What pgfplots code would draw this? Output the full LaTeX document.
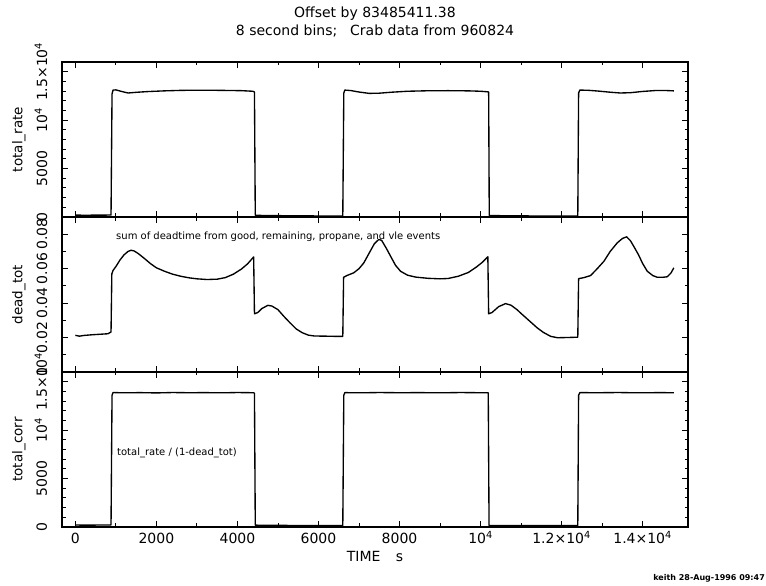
\documentclass[border=0pt]{standalone}
\usepackage{fontspec}
\setmainfont{DejaVu Sans}
\usepackage{pgfplots}
\pgfplotsset{compat=1.18}

\newcommand{\tl}{\fontsize{14}{14}\selectfont}
\newcommand{\sx}[1]{10\textsuperscript{#1}}

\pgfplotsset{
  panel/.style={
    anchor=south west, scale only axis, width=626pt, height=155pt,
    xmin=-330, xmax=15120,
    axis line style={line width=1.1pt},
    tick align=inside,
    xtick={0,2000,4000,6000,8000,10000,12000,14000},
    minor x tick num=1,
    major tick length=6pt, minor tick length=3.5pt,
    every tick/.style={black,line width=0.9pt},
    tick label style={font=\tl},
    xticklabel style={anchor=base}, xticklabel shift=17pt,
    yticklabel style={rotate=90,anchor=base}, yticklabel shift=15pt,
    every axis y label/.style={at={(axis description cs:-0.069,0.5)},rotate=90,
      anchor=center,font=\fontsize{13.5}{14}\selectfont},
    scaled ticks=false,
    cycle list={{black,no markers}},
    every axis plot post/.append style={line width=1.35pt,line join=round},
  },
  rate/.style={ymin=0, ymax=16000, ytick={0,5000,10000,15000}, minor y tick num=4,
    yticklabels={0,5000,\sx{4},1.5×\sx{4}}},
}

\begin{document}
\begin{tikzpicture}[x=1pt,y=1pt]
\path[use as bounding box] (0,0) rectangle (766,586);

% top panel: total_rate
\begin{axis}[panel, rate, at={(62pt,369pt)}, xticklabels={}, ylabel={total\_rate}]
\addplot coordinates {
(0,190)(300,185)(600,195)(880,200)(905,12700)(930,13100)(1000,13120)(1150,12950)(1300,12800)
(1500,12870)(1800,12950)(2200,13020)(2600,13070)(3000,13090)(3400,13080)(3800,13060)
(4100,13040)(4380,12980)(4420,12900)(4440,180)(4600,160)(5200,130)(5900,110)(6600,100)
(6625,12800)(6650,13100)(6800,13050)(7000,12900)(7250,12760)(7500,12780)(7800,12880)
(8200,12980)(8700,13030)(9200,13040)(9700,13020)(10000,12980)(10180,12920)(10200,12900)
(10215,150)(10600,130)(11200,110)(11900,100)(12400,100)(12420,12800)(12450,13100)
(12650,13080)(12900,13000)(13200,12880)(13450,12800)(13700,12830)(14000,12960)
(14300,13050)(14550,13060)(14770,13020)
};
\end{axis}

% middle panel: dead_tot
\begin{axis}[panel, at={(62pt,214pt)}, xticklabels={}, ylabel={dead\_tot},
  ymin=0, ymax=0.09, ytick={0,0.02,0.04,0.06,0.08}, minor y tick num=1,
  yticklabels={0,0.02,0.04,0.06,0.08}]
\addplot coordinates {
(0,0.0213)(100,0.0208)(200,0.0212)(400,0.0216)(600,0.0219)(800,0.0222)(880,0.0232)
(900,0.0570)(930,0.0590)(1000,0.0612)(1100,0.0650)(1200,0.0680)(1300,0.0700)(1375,0.0707)
(1450,0.0703)(1550,0.0688)(1700,0.0660)(1850,0.0630)(2000,0.0605)(2200,0.0585)(2400,0.0568)
(2600,0.0556)(2800,0.0547)(3000,0.0541)(3250,0.0537)(3500,0.0539)(3700,0.0548)(3900,0.0568)
(4100,0.0598)(4250,0.0628)(4400,0.0668)
(4420,0.0338)(4500,0.0345)(4600,0.0368)(4750,0.0387)(4850,0.0383)(5000,0.0362)(5150,0.0322)
(5300,0.0285)(5450,0.0250)(5600,0.0228)(5750,0.0214)(5900,0.0209)(6200,0.0208)(6400,0.0207)
(6600,0.0207)
(6620,0.0550)(6700,0.0560)(6870,0.0576)(7000,0.0600)(7120,0.0634)(7250,0.0690)(7380,0.0745)
(7490,0.0770)(7560,0.0764)(7680,0.0716)(7780,0.0672)(7900,0.0620)(8025,0.0585)(8200,0.0562)
(8400,0.0551)(8700,0.0544)(9000,0.0541)(9200,0.0543)(9450,0.0556)(9700,0.0578)(9900,0.0610)
(10050,0.0638)(10180,0.0669)
(10200,0.0338)(10280,0.0345)(10450,0.0380)(10617,0.0397)(10750,0.0388)(10900,0.0362)
(11000,0.0340)(11200,0.0298)(11400,0.0256)(11550,0.0230)(11730,0.0207)(11900,0.0199)
(12100,0.0200)(12400,0.0202)
(12420,0.0542)(12550,0.0548)(12716,0.0560)(12880,0.0600)(13045,0.0643)(13200,0.0700)
(13374,0.0750)(13500,0.0775)(13605,0.0785)(13700,0.0762)(13800,0.0722)(13900,0.0680)
(14000,0.0630)(14115,0.0585)(14250,0.0560)(14362,0.0550)(14500,0.0550)(14609,0.0553)
(14700,0.0575)(14770,0.0605)
};
\end{axis}

% bottom panel: total_corr
\begin{axis}[panel, rate, at={(62pt,59pt)}, ylabel={total\_corr},
  xticklabels={0,2000,4000,6000,8000,\sx{4},1.2×\sx{4},1.4×\sx{4}}]
\addplot coordinates {
(0,200)(300,195)(600,200)(880,205)(905,13600)(930,13880)(1200,13850)(1600,13870)
(2000,13840)(2400,13880)(2800,13860)(3200,13870)(3600,13850)(4000,13880)(4400,13860)
(4420,13800)(4440,190)(5000,170)(5600,150)(6200,140)(6600,140)(6625,13600)(6650,13870)
(7000,13850)(7500,13880)(8000,13860)(8500,13870)(9000,13850)(9500,13880)(10000,13860)
(10190,13850)(10210,160)(10800,150)(11500,140)(12400,140)(12420,13600)(12450,13870)
(12900,13860)(13400,13880)(13900,13850)(14400,13870)(14770,13860)
};
\end{axis}

% titles and notes
\node[font=\fontsize{14}{14}\selectfont] at (375,572) {Offset by 83485411.38};
\node[font=\fontsize{14}{14}\selectfont] at (375,555) {8 second bins;\hspace{0.6em} Crab data from 960824};
\node[font=\fontsize{14}{14}\selectfont] at (375,30) {TIME\hspace{1.1em}s};
\node[anchor=west,inner sep=0pt,font=\fontsize{10}{10}\selectfont] at (116,349.5)
  {sum of deadtime from good, remaining, propane, and vle events};
\node[anchor=west,inner sep=0pt,font=\fontsize{10}{10}\selectfont] at (117,133)
  {total\_rate / (1-dead\_tot)};
\node[anchor=east,inner sep=0pt,font=\fontsize{8}{8}\selectfont\bfseries] at (765,8)
  {keith 28-Aug-1996 09:47};
\end{tikzpicture}
\end{document}
